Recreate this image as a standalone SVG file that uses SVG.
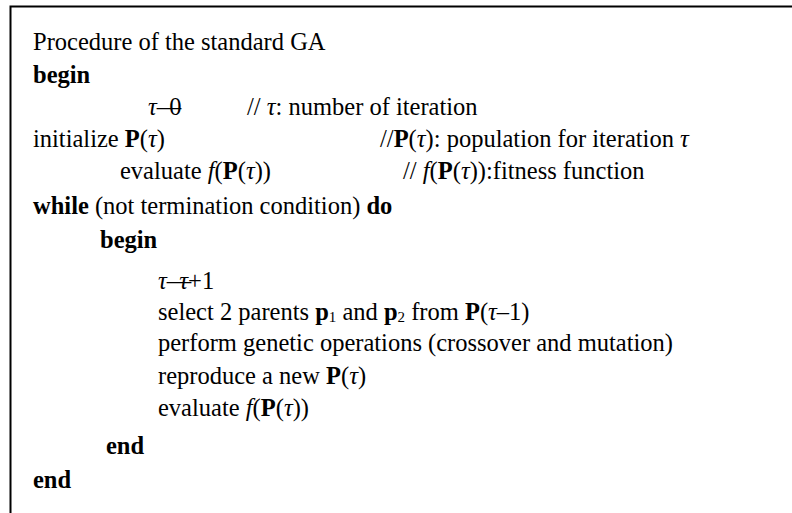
<svg xmlns="http://www.w3.org/2000/svg" width="792" height="513" viewBox="0 0 792 513">
<style>
.t{font-family:"Liberation Serif","Times New Roman",serif;font-size:24.5px;fill:#000}
.b{font-weight:bold}
.i{font-style:italic}
.s{font-size:15px}
.frame{stroke:#000;stroke-width:2;fill:none}
</style>
<rect width="792" height="513" fill="#fff"/>
<g id="frame">
<path class="frame" d="M10.5,513 V6.5 H792"/>
</g>
<g id="code">
<text class="t" x="33" y="50">Procedure of the standard GA</text>
<text class="t b" x="33" y="83">begin</text>
<text class="t" x="148" y="115"><tspan class="i">τ</tspan>—<tspan dx="-12">0</tspan></text>
<text class="t" x="247" y="115">// <tspan class="i">τ</tspan>: number of iteration</text>
<text class="t" x="33" y="147">initialize <tspan class="b">P</tspan>(<tspan class="i">τ</tspan>)</text>
<text class="t" x="380" y="147">//<tspan class="b">P</tspan>(<tspan class="i">τ</tspan>): population for iteration <tspan class="i">τ</tspan></text>
<text class="t" x="120" y="179">evaluate <tspan class="i">f</tspan>(<tspan class="b">P</tspan>(<tspan class="i">τ</tspan>))</text>
<text class="t" x="403" y="179">// <tspan class="i">f</tspan>(<tspan class="b">P</tspan>(<tspan class="i">τ</tspan>)):fitness function</text>
<text class="t" x="33" y="214"><tspan class="b">while</tspan> (not termination condition) <tspan class="b">do</tspan></text>
<text class="t b" x="100" y="248">begin</text>
<text class="t" x="158" y="289"><tspan class="i">τ</tspan>—<tspan class="i" dx="-12">τ</tspan>+1</text>
<text class="t" x="158" y="320">select 2 parents <tspan class="b">p</tspan><tspan class="s" dy="2">1</tspan><tspan dy="-2"> and </tspan><tspan class="b">p</tspan><tspan class="s" dy="2">2</tspan><tspan dy="-2"> from </tspan><tspan class="b">P</tspan>(<tspan class="i">τ</tspan>–1)</text>
<text class="t" x="158" y="351">perform genetic operations (crossover and mutation)</text>
<text class="t" x="158" y="384">reproduce a new <tspan class="b">P</tspan>(<tspan class="i">τ</tspan>)</text>
<text class="t" x="158" y="416">evaluate <tspan class="i">f</tspan>(<tspan class="b">P</tspan>(<tspan class="i">τ</tspan>))</text>
<text class="t b" x="106" y="454">end</text>
<text class="t b" x="33" y="488">end</text>
</g>
</svg>
